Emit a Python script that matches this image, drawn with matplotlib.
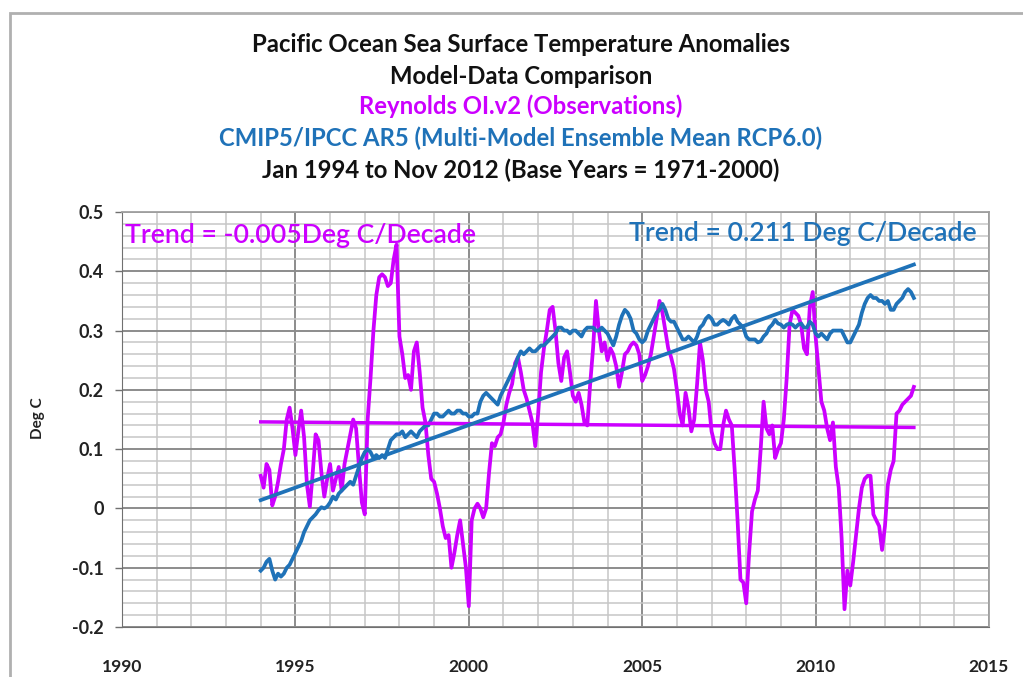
import numpy as np
import matplotlib
matplotlib.use("Agg")
import matplotlib.pyplot as plt
from matplotlib.patches import Rectangle
from matplotlib.ticker import MultipleLocator

# ---------------- data (monthly, Jan 1994 .. Nov 2012) ----------------
start_year = 1994
obs = [  # Reynolds OI.v2 observations
    0.055, 0.035, 0.075, 0.065, 0.005, 0.02, 0.045, 0.075, 0.10, 0.15, 0.17, 0.135,      # 1994
    0.09, 0.13, 0.165, 0.12, 0.04, 0.003, 0.06, 0.125, 0.115, 0.06, 0.02, 0.05,          # 1995
    0.075, 0.03, 0.05, 0.07, 0.03, 0.075, 0.10, 0.125, 0.15, 0.135, 0.07, 0.01,          # 1996
    -0.01, 0.15, 0.22, 0.30, 0.36, 0.39, 0.395, 0.39, 0.375, 0.38, 0.42, 0.445,          # 1997
    0.29, 0.26, 0.22, 0.225, 0.20, 0.265, 0.28, 0.23, 0.17, 0.145, 0.09, 0.05,           # 1998
    0.045, 0.025, 0.0, -0.03, -0.05, -0.045, -0.10, -0.075, -0.045, -0.02, -0.06, -0.10,  # 1999
    -0.165, -0.02, 0.0, 0.008, 0.0, -0.015, 0.0, 0.06, 0.11, 0.105, 0.12, 0.125,          # 2000
    0.145, 0.175, 0.195, 0.21, 0.245, 0.255, 0.23, 0.20, 0.185, 0.165, 0.145, 0.105,     # 2001
    0.16, 0.23, 0.27, 0.30, 0.335, 0.34, 0.30, 0.245, 0.215, 0.255, 0.265, 0.23,         # 2002
    0.19, 0.18, 0.195, 0.175, 0.145, 0.14, 0.21, 0.27, 0.35, 0.30, 0.265, 0.28,          # 2003
    0.25, 0.27, 0.26, 0.24, 0.205, 0.23, 0.26, 0.265, 0.275, 0.28, 0.275, 0.26,          # 2004
    0.215, 0.225, 0.24, 0.26, 0.29, 0.32, 0.35, 0.33, 0.30, 0.27, 0.255, 0.235,          # 2005
    0.20, 0.16, 0.14, 0.195, 0.17, 0.13, 0.15, 0.21, 0.28, 0.25, 0.20, 0.18,             # 2006
    0.13, 0.11, 0.10, 0.10, 0.14, 0.165, 0.15, 0.14, 0.065, -0.02, -0.12, -0.125,        # 2007
    -0.16, -0.075, -0.005, 0.015, 0.03, 0.10, 0.18, 0.135, 0.125, 0.14, 0.085, 0.10,     # 2008
    0.11, 0.15, 0.22, 0.31, 0.335, 0.33, 0.325, 0.31, 0.27, 0.26, 0.34, 0.365,           # 2009
    0.29, 0.235, 0.18, 0.165, 0.135, 0.115, 0.145, 0.07, 0.035, -0.05, -0.17, -0.105,    # 2010
    -0.13, -0.09, -0.045, 0.0, 0.035, 0.05, 0.055, 0.055, -0.01, -0.02, -0.03, -0.07,     # 2011
    -0.03, 0.04, 0.065, 0.08, 0.16, 0.165, 0.175, 0.18, 0.185, 0.19, 0.205,              # 2012
]
model = [  # CMIP5 multi-model ensemble mean RCP6.0
    -0.105, -0.10, -0.09, -0.085, -0.105, -0.12, -0.11, -0.115, -0.11, -0.10, -0.095, -0.085,  # 1994
    -0.075, -0.065, -0.055, -0.04, -0.03, -0.02, -0.015, -0.01, -0.003, 0.002, 0.0, 0.003,     # 1995
    0.01, 0.02, 0.015, 0.025, 0.03, 0.035, 0.04, 0.045, 0.04, 0.055, 0.07, 0.085,             # 1996
    0.095, 0.10, 0.095, 0.085, 0.09, 0.085, 0.09, 0.085, 0.10, 0.115, 0.12, 0.125,            # 1997
    0.125, 0.13, 0.12, 0.125, 0.13, 0.125, 0.12, 0.13, 0.135, 0.14, 0.14, 0.15,               # 1998
    0.16, 0.16, 0.155, 0.155, 0.16, 0.165, 0.16, 0.16, 0.165, 0.165, 0.16, 0.16,              # 1999
    0.155, 0.155, 0.16, 0.16, 0.18, 0.19, 0.195, 0.19, 0.185, 0.18, 0.175, 0.19,              # 2000
    0.20, 0.21, 0.22, 0.23, 0.24, 0.255, 0.265, 0.26, 0.265, 0.27, 0.265, 0.265,              # 2001
    0.27, 0.275, 0.275, 0.28, 0.285, 0.29, 0.295, 0.305, 0.305, 0.30, 0.30, 0.295,            # 2002
    0.30, 0.30, 0.295, 0.29, 0.30, 0.305, 0.305, 0.305, 0.30, 0.30, 0.305, 0.30,              # 2003
    0.295, 0.285, 0.275, 0.29, 0.31, 0.325, 0.335, 0.33, 0.32, 0.30, 0.295, 0.285,            # 2004
    0.28, 0.285, 0.30, 0.31, 0.32, 0.33, 0.335, 0.345, 0.335, 0.32, 0.315, 0.315,             # 2005
    0.305, 0.295, 0.285, 0.285, 0.29, 0.285, 0.28, 0.29, 0.305, 0.31, 0.32, 0.325,            # 2006
    0.32, 0.31, 0.31, 0.315, 0.318, 0.315, 0.31, 0.32, 0.325, 0.315, 0.31, 0.305,             # 2007
    0.29, 0.285, 0.285, 0.285, 0.28, 0.282, 0.29, 0.295, 0.305, 0.31, 0.318, 0.312,           # 2008
    0.31, 0.305, 0.31, 0.312, 0.31, 0.305, 0.31, 0.312, 0.305, 0.305, 0.315, 0.31,            # 2009
    0.295, 0.29, 0.295, 0.29, 0.285, 0.295, 0.30, 0.30, 0.30, 0.30, 0.29, 0.28,               # 2010
    0.28, 0.29, 0.30, 0.31, 0.33, 0.345, 0.355, 0.36, 0.355, 0.355, 0.35, 0.35,               # 2011
    0.345, 0.35, 0.335, 0.335, 0.345, 0.35, 0.355, 0.365, 0.37, 0.365, 0.355,                 # 2012
]
# linear trends: slope (deg C / decade) and fitted value at first month
obs_trend_per_decade = -0.005
obs_trend_start = 0.146
model_trend_per_decade = 0.211
model_trend_start = 0.014

title_lines = [
    ("Pacific Ocean Sea Surface Temperature Anomalies", "#111111"),
    ("Model-Data Comparison", "#111111"),
    ("Reynolds OI.v2 (Observations)", "#cc00ff"),
    ("CMIP5/IPCC AR5 (Multi-Model Ensemble Mean RCP6.0)", "#1f72b8"),
    ("Jan 1994 to Nov 2012 (Base Years = 1971-2000)", "#111111"),
]
obs_label = "Trend = -0.005Deg C/Decade"
model_label = "Trend = 0.211 Deg C/Decade"

MAG = "#cc00ff"
BLUE = "#1f72b8"
FONT = ["Lato", "DejaVu Sans"]

# ---------------- figure ----------------
W, H = 1023, 677
fig = plt.figure(figsize=(W / 100, H / 100), dpi=100)
plt.rcParams["font.family"] = FONT

# outer chart frame
fig.patches.append(Rectangle((10 / W, -0.1), 1.2, 1.1 - 13 / H, transform=fig.transFigure,
                             fill=False, edgecolor="#b0b0b0", linewidth=2.0))

ax = fig.add_axes([122 / W, 1 - 627 / H, (989 - 122) / W, (627 - 212) / H])

t = start_year + np.arange(len(obs)) / 12.0
tm = start_year + np.arange(len(model)) / 12.0
obs = np.array(obs)
model = np.array(model)

ax.set_xlim(1990, 2015)
ax.set_ylim(-0.2, 0.5)
ax.xaxis.set_major_locator(MultipleLocator(5))
ax.xaxis.set_minor_locator(MultipleLocator(1))
ax.yaxis.set_major_locator(MultipleLocator(0.1))
ax.yaxis.set_minor_locator(MultipleLocator(0.02))

ax.grid(which="major", color="#8c8c8c", linewidth=1.4, zorder=0)
ax.grid(which="minor", color="#c6c6c6", linewidth=1.1, zorder=0)
ax.set_axisbelow(True)

for s in ["top", "right"]:
    ax.spines[s].set_color("#a0a0a0")
    ax.spines[s].set_linewidth(1.3)
ax.spines["left"].set_color("#707070")
ax.spines["bottom"].set_color("#707070")

ax.tick_params(axis="y", which="major", direction="out", length=5, width=1,
               color="#707070", pad=8, labelsize=13, labelcolor="#222222")
ax.tick_params(axis="y", which="minor", length=0)
ax.tick_params(axis="x", which="both", length=0, pad=23, labelsize=12.5,
               labelcolor="#222222")

def fmt(v):
    s = f"{v:.1f}"
    if abs(v) < 1e-9:
        s = "0"
    return s

yt = np.round(np.arange(-0.2, 0.51, 0.1), 1)
ax.set_yticks(yt)
ax.set_yticklabels([fmt(v) for v in yt])
for lab in ax.get_xticklabels() + ax.get_yticklabels():
    lab.set_fontweight("bold")

ax.plot(t, obs, color=MAG, linewidth=2.7, zorder=3, solid_joinstyle="round")
ax.plot(tm, model, color=BLUE, linewidth=2.7, zorder=4, solid_joinstyle="round")

obs_tr = obs_trend_start + obs_trend_per_decade / 10.0 * (t - t[0])
mod_tr = model_trend_start + model_trend_per_decade / 10.0 * (tm - tm[0])
ax.plot(t, obs_tr, color=MAG, linewidth=2.5, zorder=5)
ax.plot(tm, mod_tr, color=BLUE, linewidth=2.7, zorder=6)

ax.set_ylabel("Deg C", fontsize=11, fontweight="bold", color="#222222")
ax.yaxis.set_label_coords((45 - 122) / (989 - 122), (627 - 418) / (627 - 212))

# trend annotations
fig.text(125 / W, 1 - 236 / H, obs_label, color=MAG, fontsize=19.2,
         fontweight="semibold", ha="left", va="center")
fig.text(977 / W, 1 - 234 / H, model_label, color=BLUE, fontsize=19.2,
         fontweight="semibold", ha="right", va="center")

# title lines
ys = [45, 76, 106, 138, 170]
for (txt, col), yy in zip(title_lines, ys):
    fig.text(521 / W, 1 - yy / H, txt, color=col, fontsize=17.2, fontweight="bold",
             ha="center", va="center")

fig.savefig("out.png", dpi=100)
